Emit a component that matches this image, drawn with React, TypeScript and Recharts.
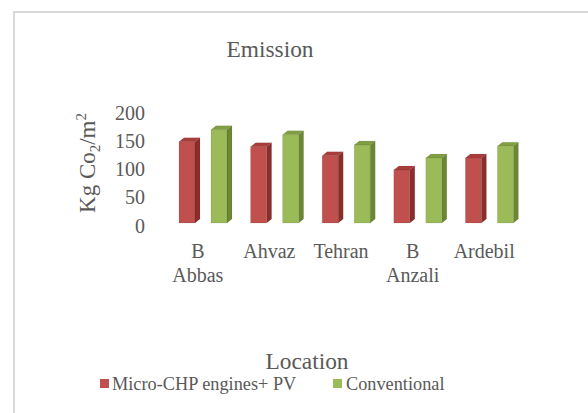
import React from 'react';
import { BarChart, Bar, XAxis, YAxis } from 'recharts';

const locations = ['B Abbas', 'Ahvaz', 'Tehran', 'B Anzali', 'Ardebil'];
const microChpPv = [144, 135, 119, 94, 115];
const conventional = [165, 156, 138, 115, 136];
const yTicks = [0, 50, 100, 150, 200];

const data = locations.map((location, i) => ({
  location,
  microChpPv: microChpPv[i],
  conventional: conventional[i],
}));

const FONT = '"Liberation Serif", "Times New Roman", serif';
const TEXT = '#595959';

const SHADES: Record<string, { side: string; top: string }> = {
  '#C0504D': { side: '#8A2E2B', top: '#A83D3A' },
  '#9BBB59': { side: '#6A8733', top: '#809F42' },
};

function Bar3D(props: any) {
  const { x, y, width, height, fill } = props;
  if (!height || height <= 0) return null;
  const dx = 5;
  const dy = 4;
  const s = SHADES[fill] || { side: fill, top: fill };
  return (
    <g>
      <polygon
        points={`${x + width},${y} ${x + width + dx},${y - dy} ${x + width + dx},${y + height - dy} ${x + width},${y + height}`}
        fill={s.side}
        stroke="rgba(0,0,0,0.08)"
        strokeWidth={0.8}
      />
      <polygon
        points={`${x},${y} ${x + dx},${y - dy} ${x + width + dx},${y - dy} ${x + width},${y}`}
        fill={s.top}
        stroke="rgba(0,0,0,0.08)"
        strokeWidth={0.8}
      />
      <rect x={x} y={y} width={width} height={height} fill={fill} stroke="rgba(0,0,0,0.1)" strokeWidth={0.8} />
    </g>
  );
}

function XTick(props: any) {
  const { x, y, payload } = props;
  const words = String(payload.value).split(' ');
  return (
    <text x={x - 5} y={y} textAnchor="middle" fill={TEXT} fontFamily={FONT} fontSize={20}>
      {words.map((w, i) => (
        <tspan key={i} x={x - 5} dy={i === 0 ? 27 : 24}>
          {w}
        </tspan>
      ))}
    </text>
  );
}

function YTick(props: any) {
  const { y, payload } = props;
  return (
    <text x={145} y={y + 9.6} textAnchor="end" fill={TEXT} fontFamily={FONT} fontSize={20}>
      {payload.value}
    </text>
  );
}

export default function App() {
  return (
    <div style={{ position: 'absolute', left: 0, top: 0, width: 588, height: 413, background: '#fff', overflow: 'hidden' }}>
      {/* chart frame: only top and left edges are in view */}
      <div
        style={{
          position: 'absolute',
          left: 13,
          top: 11,
          width: 600,
          height: 420,
          borderLeft: '2px solid #d9d9d9',
          borderTop: '2px solid #d9d9d9',
        }}
      />
      <div style={{ position: 'absolute', left: 0, top: 0 }}>
        <BarChart
          width={588}
          height={413}
          data={data}
          margin={{ top: 110, right: 63, bottom: 150, left: 107 }}
          barSize={16}
          barGap={16}
        >
          <XAxis
            dataKey="location"
            height={40}
            axisLine={false}
            tickLine={false}
            interval={0}
            tick={<XTick />}
          />
          <YAxis
            width={60}
            domain={[0, 200]}
            ticks={yTicks}
            axisLine={false}
            tickLine={false}
            tick={<YTick />}
          />
          <Bar dataKey="microChpPv" name="Micro-CHP engines+ PV" fill="#C0504D" shape={<Bar3D />} isAnimationActive={false} />
          <Bar dataKey="conventional" name="Conventional" fill="#9BBB59" shape={<Bar3D />} isAnimationActive={false} />
        </BarChart>
      </div>
      <svg width={588} height={413} style={{ position: 'absolute', left: 0, top: 0, pointerEvents: 'none' }}>
        <text x={270} y={57} textAnchor="middle" fill={TEXT} fontFamily={FONT} fontSize={23.4}>
          Emission
        </text>
        <text transform="translate(95,163) rotate(-90)" textAnchor="middle" fill={TEXT} fontFamily={FONT} fontSize={23}>
          Kg Co
          <tspan fontSize={15} dy={5}>2</tspan>
          <tspan dy={-5}>/m</tspan>
          <tspan fontSize={15} dy={-9}>2</tspan>
        </text>
        <text x={307} y={369} textAnchor="middle" fill={TEXT} fontFamily={FONT} fontSize={23.4}>
          Location
        </text>
        <rect x={100} y={379} width={9} height={9} fill="#C0504D" />
        <text x={112} y={390} fill={TEXT} fontFamily={FONT} fontSize={18.3}>
          Micro-CHP engines+ PV
        </text>
        <rect x={333} y={379} width={9} height={9} fill="#9BBB59" />
        <text x={346} y={390} fill={TEXT} fontFamily={FONT} fontSize={18.3}>
          Conventional
        </text>
      </svg>
    </div>
  );
}
